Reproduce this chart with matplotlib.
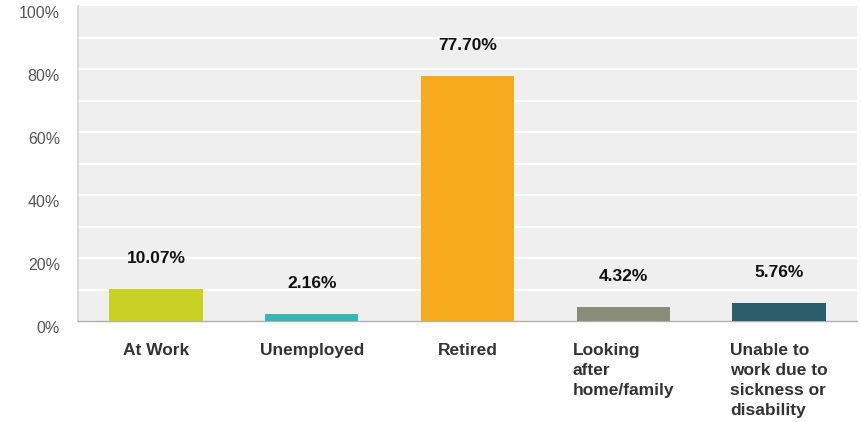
import matplotlib.pyplot as plt
import matplotlib.transforms as mtransforms
import numpy as np

categories = ['At Work', 'Unemployed', 'Retired', 'Looking\nafter\nhome/family',
              'Unable to\nwork due to\nsickness or\ndisability']
values = [10.07, 2.16, 77.70, 4.32, 5.76]
colors = ['#c9d124', '#35b6b1', '#f6ab1c', '#898c78', '#2b5d6a']
yticks = [0, 20, 40, 60, 80, 100]

plt.rcParams['font.family'] = ['Liberation Sans', 'DejaVu Sans']

fig = plt.figure(figsize=(8.61, 4.22), dpi=100)
ax = fig.add_axes([78 / 861., 1 - 321 / 422., (857 - 78) / 861., (321 - 6) / 422.])
ax.set_facecolor('#efefef')

x = np.arange(len(categories))
ax.bar(x, values, width=0.6, color=colors, zorder=3)

# white grid every 10%
for g in range(10, 100, 10):
    ax.axhline(g, color='white', lw=1.6, zorder=1)

for xi, v in zip(x, values):
    ax.annotate('%.2f%%' % v, (xi, v), xytext=(0, 22), textcoords='offset points',
                ha='center', va='center', fontsize=12.5, fontweight='bold', color='#111111')

ax.set_xlim(-0.5, len(categories) - 0.5)
ax.set_ylim(0, 100)
ax.set_yticks(yticks)
ax.set_yticklabels(['%d%%' % t for t in yticks], fontsize=11.5, color='#555555')
ax.tick_params(axis='y', length=0, pad=13)
# labels sit a little below their grid value
offset = mtransforms.ScaledTranslation(0, -6 / 100., fig.dpi_scale_trans)
for lbl in ax.get_yticklabels():
    lbl.set_transform(lbl.get_transform() + offset)

ax.set_xticks(x)
ax.set_xticklabels(categories, fontsize=12.5, fontweight='bold', color='#333333',
                   va='top', ha='center', multialignment='left', linespacing=1.4)
ax.tick_params(axis='x', length=0, pad=16)

for side in ['top', 'right']:
    ax.spines[side].set_visible(False)
ax.spines['left'].set_color('#d8d8d8')
ax.spines['left'].set_linewidth(1.5)
ax.spines['bottom'].set_color('#b0b0b0')
ax.spines['bottom'].set_linewidth(1.0)

fig.savefig('out.png', dpi=100)
